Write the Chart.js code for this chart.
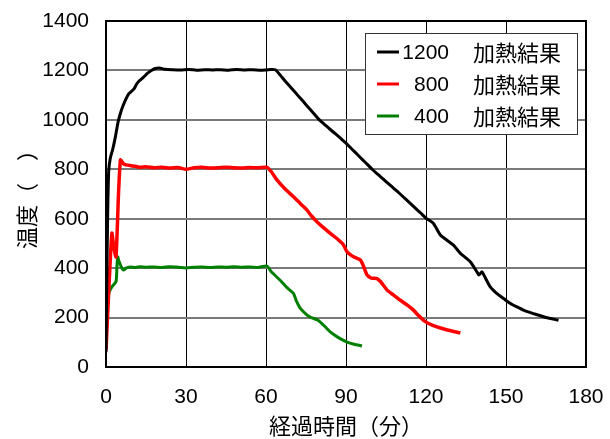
<!DOCTYPE html>
<html>
<head>
<meta charset="utf-8">
<script src="https://cdn.jsdelivr.net/npm/chart.js@4/dist/chart.umd.min.js"></script>
<style>
  html, body { margin: 0; padding: 0; background: #fff; }
  #wrap { width: 610px; height: 439px; }
</style>
</head>
<body>
<div id="wrap"><canvas id="c" width="610" height="439"></canvas></div>
<script>
// Heating test temperature records: elapsed time (min) vs temperature
const t1200 = [0, 0.3, 0.6, 1.0, 1.6, 2.5, 3.5, 4.5, 5.5, 6.5, 7.5, 8.5, 9.5, 10.5, 11.5, 12.5, 14, 15.5, 17, 18.5, 20, 22, 25, 28, 31, 34, 37, 40, 43, 46, 49, 52, 55, 58, 61, 63.5, 66, 68, 70, 72, 74, 76, 78, 80, 82, 84, 86, 88, 90, 92, 94, 96, 98, 100, 102, 104, 106, 108, 110, 112, 114, 116, 118, 120, 122.8, 125.4, 128, 130.3, 132.9, 136.6, 139.1, 139.8, 141, 141.8, 144.1, 146.5, 149.1, 151.5, 154.1, 157, 160.3, 165, 169.7];
const v1200 = [60, 350, 600, 790, 845, 880, 930, 990, 1030, 1060, 1085, 1105, 1115, 1125, 1145, 1158, 1172, 1188, 1200, 1208, 1210, 1205, 1203, 1202, 1204, 1201, 1203, 1202, 1203, 1201, 1204, 1202, 1203, 1201, 1203, 1203, 1172, 1147, 1123, 1098, 1074, 1049, 1025, 1000, 981, 962, 944, 925, 906, 884, 863, 841, 820, 798, 779, 760, 741, 722, 703, 683, 663, 643, 623, 602, 581, 534, 512, 493, 460, 426, 385, 372, 385, 370, 324, 298, 277, 258, 243, 228, 216, 200, 189];

const t800 = [0, 1.0, 2.2, 2.9, 3.75, 4.7, 5.4, 6.0, 6.6, 7.5, 9, 11, 13, 15, 18, 21, 24, 27, 30, 33, 36, 39, 42, 45, 48, 51, 54, 57, 60.4, 62, 64.1, 67, 70.3, 73, 75.4, 77, 79.1, 82, 84.1, 86, 87.2, 89, 90.4, 93, 95.4, 96.5, 97.9, 99.5, 101.6, 103, 105.4, 108, 110.4, 113, 115.3, 117, 119.1, 121, 124.1, 128, 132.9];
const v800 = [68, 298, 541, 487, 446, 703, 838, 830, 822, 818, 815, 812, 808, 810, 806, 808, 805, 807, 800, 806, 808, 805, 806, 808, 806, 805, 807, 806, 808, 790, 757, 722, 689, 660, 635, 612, 588, 560, 541, 525, 514, 495, 466, 445, 433, 410, 372, 360, 358, 345, 311, 290, 270, 250, 230, 210, 189, 176, 162, 150, 138];

const t400 = [0, 1.0, 2.2, 3.75, 4.1, 4.4, 4.8, 6.0, 6.6, 7.5, 9, 11, 13, 15, 18, 21, 24, 27, 30, 33, 36, 39, 42, 45, 48, 51, 54, 57, 60.4, 62, 65.4, 68, 70.3, 71.3, 72.9, 75.4, 77, 79.4, 82, 84.1, 87, 90.4, 93, 96];
const v400 = [137, 298, 324, 345, 405, 446, 430, 399, 392, 400, 405, 403, 406, 404, 405, 403, 406, 404, 401, 404, 405, 403, 405, 404, 406, 404, 405, 403, 408, 385, 350, 320, 298, 270, 237, 210, 200, 190, 165, 142, 120, 101, 92, 85];

const seriesNames = ['1200', '800', '400'];
const seriesSuffix = '加熱結果';
const seriesColors = ['#000000', '#ff0000', '#008000'];
const xTicks = [0, 30, 60, 90, 120, 150, 180];
const yTicks = [0, 200, 400, 600, 800, 1000, 1200, 1400];
const xTitle = '経過時間（分）';
const yTitle = '温度（　）';

const toPoints = (ts, vs) => ts.map((t, i) => ({ x: t, y: vs[i] }));
const seriesData = [toPoints(t1200, v1200), toPoints(t800, v800), toPoints(t400, v400)];

const FONT = '"Liberation Sans", Arial, "Noto Sans CJK JP", sans-serif';
const CJK = '"Noto Sans CJK JP", "Liberation Sans", sans-serif';
Chart.defaults.font.family = FONT;
Chart.defaults.color = '#000';

// Plot frame and the boxed legend in the upper right of the plot area
const framePlugin = {
  id: 'frameAndLegend',
  afterDatasetsDraw(chart) {
    const { ctx, chartArea: a } = chart;
    ctx.save();
    ctx.strokeStyle = '#000';
    ctx.lineWidth = 2;
    ctx.strokeRect(a.left, a.top, a.right - a.left, a.bottom - a.top);

    const bx = 365.5, by = 33.5, bw = 212, bh = 101;
    ctx.fillStyle = '#fff';
    ctx.fillRect(bx, by, bw, bh);
    ctx.strokeStyle = '#333';
    ctx.lineWidth = 1;
    ctx.strokeRect(bx, by, bw, bh);

    const rows = [52, 84, 116];
    chart.data.datasets.forEach((ds, i) => {
      const y = rows[i];
      ctx.strokeStyle = ds.borderColor;
      ctx.lineWidth = 3;
      ctx.beginPath();
      ctx.moveTo(377, y);
      ctx.lineTo(399, y);
      ctx.stroke();
      ctx.fillStyle = '#000';
      ctx.textBaseline = 'middle';
      ctx.textAlign = 'right';
      ctx.font = '21px ' + FONT;
      ctx.fillText(seriesNames[i], 449, y + 1);
      ctx.textAlign = 'left';
      ctx.font = '22px ' + CJK;
      ctx.fillText(seriesSuffix, 473, y + 1);
    });
    ctx.restore();
  }
};

// Fixed axis sizes; label overhang padding is cleared so layout.padding sets the plot edges
const fixX = s => { s.height = 72; s.paddingLeft = 0; s.paddingRight = 0; s.paddingTop = 0; s.paddingBottom = 0; };
const fixY = s => { s.width = 106; s.paddingLeft = 0; s.paddingRight = 0; s.paddingTop = 0; s.paddingBottom = 0; };

new Chart(document.getElementById('c'), {
  type: 'line',
  data: {
    datasets: seriesData.map((d, i) => ({
      label: seriesNames[i] + ' ' + seriesSuffix,
      data: d,
      borderColor: seriesColors[i],
      backgroundColor: seriesColors[i],
      borderWidth: i === 1 ? 3.5 : 3,
      pointRadius: 0,
      tension: 0.2,
      fill: false
    }))
  },
  options: {
    responsive: false,
    devicePixelRatio: 1,
    animation: false,
    layout: { padding: { left: 0, top: 21, right: 24, bottom: 0 } },
    plugins: { legend: { display: false }, tooltip: { enabled: false } },
    scales: {
      x: {
        type: 'linear',
        min: 0, max: 180,
        afterBuildTicks: s => { s.ticks = xTicks.map(v => ({ value: v })); },
        ticks: { font: { size: 21 }, color: '#000', padding: 18, maxRotation: 0, callback: v => String(v) },
        grid: { color: '#000', lineWidth: 1, drawTicks: false },
        border: { display: false },
        title: { display: true, text: xTitle, font: { size: 22, family: CJK }, color: '#000', padding: { top: 0, bottom: 0 } },
        afterFit: fixX
      },
      y: {
        type: 'linear',
        min: 0, max: 1400,
        afterBuildTicks: s => { s.ticks = yTicks.map(v => ({ value: v })); },
        ticks: { font: { size: 21 }, color: '#000', padding: 17, callback: v => String(v) },
        grid: { color: '#7a7a7a', lineWidth: 2, drawTicks: false },
        border: { display: false },
        title: { display: true, text: yTitle, font: { size: 22, family: CJK }, color: '#000', padding: { top: 13, bottom: 0 } },
        afterFit: fixY
      }
    }
  },
  plugins: [framePlugin]
});
</script>
</body>
</html>
